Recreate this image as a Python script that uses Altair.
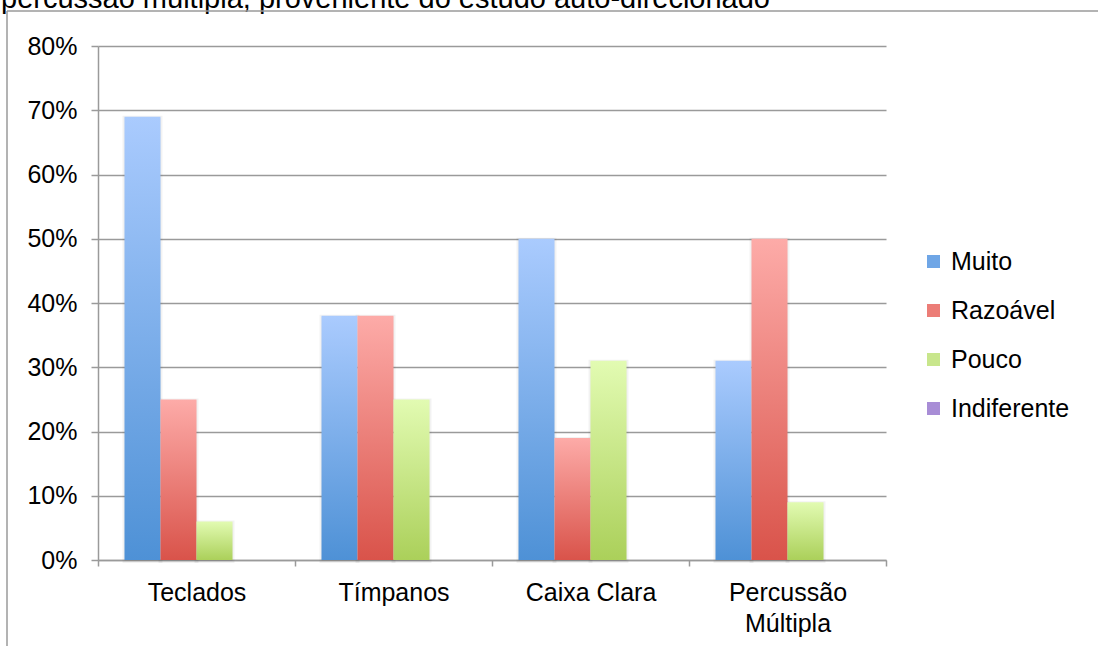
import altair as alt
import pandas as pd

# Survey answers per instrument (share of respondents)
categories = ["Teclados", "Tímpanos", "Caixa Clara", "Percussão Múltipla"]
series = ["Muito", "Razoável", "Pouco", "Indiferente"]
muito = [0.69, 0.38, 0.50, 0.31]
razoavel = [0.25, 0.38, 0.19, 0.50]
pouco = [0.06, 0.25, 0.31, 0.09]
indiferente = [0.0, 0.0, 0.0, 0.0]
y_ticks = [0.0, 0.1, 0.2, 0.3, 0.4, 0.5, 0.6, 0.7, 0.8]

title_text = "percussão múltipla, proveniente do estudo auto-direcionado"

values_by_series = dict(zip(series, [muito, razoavel, pouco, indiferente]))
df = pd.DataFrame(
    [
        {"instrumento": c, "serie": s, "valor": v}
        for s in series
        for c, v in zip(categories, values_by_series[s])
    ]
)

# light top -> saturated bottom, per series
gradient_stops = {
    "Muito": ("#aacbfe", "#4e91d6"),
    "Razoável": ("#fdaba8", "#d9534a"),
    "Pouco": ("#e2fbb2", "#abd05a"),
    "Indiferente": ("#c6b0ea", "#8c6cbf"),
}
legend_colors = ["#6fa6e6", "#ec7d77", "#c8e68c", "#a88dd6"]

FONT = "Liberation Sans"
GRAY = "#9a9a9a"

W, H = 788, 514
PAD = {"left": 98, "top": 46, "right": 212, "bottom": 86}

x_enc = alt.X(
    "instrumento:N",
    sort=categories,
    scale=alt.Scale(domain=categories, paddingInner=0, paddingOuter=0),
    axis=alt.Axis(
        title=None,
        labelAngle=0,
        tickBand="extent",
        tickSize=6,
        tickColor=GRAY,
        tickWidth=1.5,
        domainColor=GRAY,
        domainWidth=1.5,
        grid=False,
        labelFont=FONT,
        labelFontSize=25,
        labelColor="#000000",
        labelPadding=14,
        labelLineHeight=31,
        labelExpr="datum.value == 'Percussão Múltipla' ? ['Percussão', 'Múltipla'] : datum.label",
    ),
)
xoff_enc = alt.XOffset(
    "serie:N",
    sort=series,
    scale=alt.Scale(domain=series, paddingInner=0, paddingOuter=0.736),
)
y_enc = alt.Y(
    "valor:Q",
    scale=alt.Scale(domain=[0, 0.8], nice=False),
    axis=alt.Axis(
        title=None,
        values=y_ticks,
        format=".0%",
        grid=True,
        gridColor=GRAY,
        gridWidth=1.5,
        domainColor=GRAY,
        domainWidth=1.5,
        tickColor=GRAY,
        tickWidth=1.5,
        tickSize=7,
        labelFont=FONT,
        labelFontSize=25,
        labelColor="#000000",
        labelPadding=14,
    ),
)

# soft drop shadow behind every bar
shadow = (
    alt.Chart(df)
    .transform_filter(alt.datum.valor > 0)
    .mark_bar(
        fill="#000000",
        fillOpacity=0.05,
        stroke="#000000",
        strokeOpacity=0.05,
        strokeWidth=4,
        xOffset=2,
        yOffset=1,
    )
    .encode(x=x_enc, xOffset=xoff_enc, y=y_enc)
)

bar_layers = []
for s in series[:3]:
    top, bottom = gradient_stops[s]
    grad = alt.Gradient(
        gradient="linear",
        stops=[
            alt.GradientStop(color=top, offset=0),
            alt.GradientStop(color=bottom, offset=1),
        ],
        x1=0,
        x2=0,
        y1=0,
        y2=1,
    )
    bar_layers.append(
        alt.Chart(df)
        .transform_filter(alt.datum.serie == s)
        .mark_bar(color=grad)
        .encode(x=x_enc, xOffset=xoff_enc, y=y_enc)
    )

# the last series (all zero) carries the legend
legend_layer = (
    alt.Chart(df)
    .transform_filter(alt.datum.serie == "Indiferente")
    .mark_bar()
    .encode(
        x=x_enc,
        xOffset=xoff_enc,
        y=y_enc,
        color=alt.Color(
            "serie:N",
            scale=alt.Scale(domain=series, range=legend_colors),
            legend=alt.Legend(
                title=None,
                orient="none",
                legendX=823,
                legendY=203,
                padding=0,
                symbolType="square",
                symbolSize=169,
                symbolStrokeWidth=0,
                symbolOpacity=1,
                labelFont=FONT,
                labelFontSize=25,
                labelColor="#000000",
                labelOffset=5,
                rowPadding=23,
            ),
        ),
    )
)

one = pd.DataFrame({"t": [title_text]})

title_mark = (
    alt.Chart(one)
    .mark_text(font=FONT, fontSize=29, align="left", baseline="alphabetic", color="#000000")
    .encode(text="t:N", x=alt.value(-97), y=alt.value(-38))
)
frame_left = (
    alt.Chart(one)
    .mark_rule(color=GRAY, strokeWidth=1.5)
    .encode(x=alt.value(-91), y=alt.value(-35), y2=alt.value(H + PAD["bottom"]))
)
frame_top = (
    alt.Chart(one)
    .mark_rule(color=GRAY, strokeWidth=1.5)
    .encode(x=alt.value(-91), x2=alt.value(W + PAD["right"]), y=alt.value(-35))
)

chart = (
    alt.layer(shadow, *bar_layers, legend_layer, title_mark, frame_left, frame_top)
    .properties(
        width=W,
        height=H,
        padding=PAD,
        autosize=alt.AutoSizeParams(type="none"),
        background="#ffffff",
    )
    .configure_view(stroke="transparent")
)

chart.save("out.html", embed_options={"renderer": "svg", "actions": False})
